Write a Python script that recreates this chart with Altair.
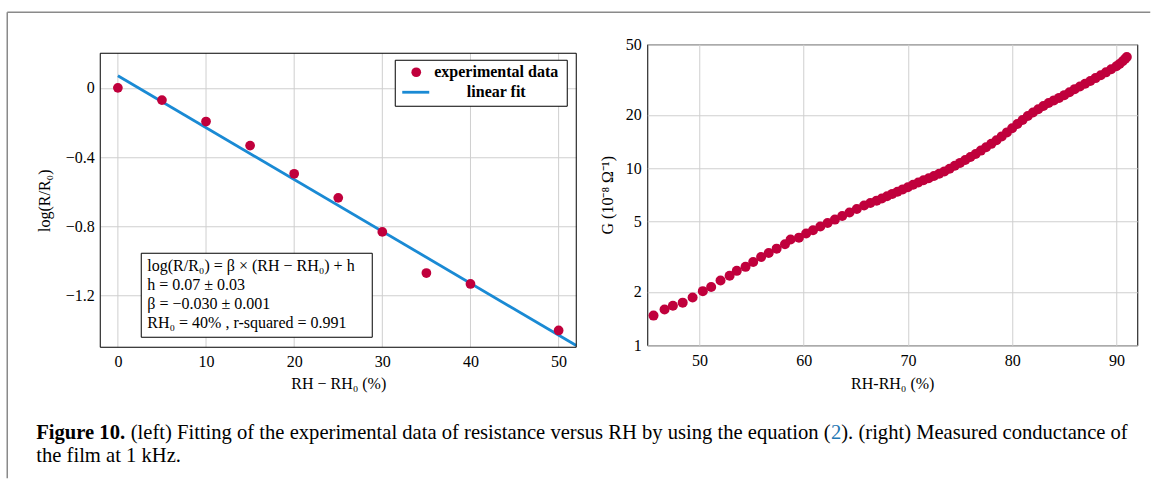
import altair as alt
import pandas as pd

# ---------------- data ----------------
rh_left = [0, 5, 10, 15, 20, 25, 30, 35, 40, 50]
logr_left = [0.0, -0.071, -0.195, -0.334, -0.497, -0.636, -0.833, -1.071, -1.134, -1.403]
fit_rh = [0, 52]
fit_logr = [0.07, -1.49]
left_xticks = [0, 10, 20, 30, 40, 50]
left_yticks = [0, -0.4, -0.8, -1.2]
left_xdomain = [-2, 52]
left_ydomain = [-1.5, 0.2]

rh_right = [45.6, 46.66, 47.46, 48.4, 49.35, 50.33, 51.13, 52.03, 52.9, 53.59,
            54.43, 55.16, 55.92, 56.65, 57.41, 58.21, 58.75, 59.55, 60.24, 60.9,
            61.6, 62.3, 63.0, 63.7, 64.4, 65.1, 65.8, 66.4, 67.0, 67.5,
            68.0, 68.5, 69.0, 69.5, 70.0, 70.5, 71.0, 71.5, 72.0, 72.5,
            73.0, 73.5, 74.0, 74.5, 75.0, 75.5, 76.0, 76.5, 77.0, 77.5,
            78.0, 78.5, 79.0, 79.5, 80.0, 80.5, 81.0, 81.5, 82.0, 82.5,
            83.0, 83.5, 84.0, 84.5, 85.0, 85.5, 86.0, 86.5, 87.0, 87.5,
            88.0, 88.5, 89.0, 89.5, 90.0, 90.3, 90.6, 90.85, 91.0]
g_right = [1.47, 1.59, 1.67, 1.74, 1.86, 2.02, 2.13, 2.32, 2.47, 2.63,
           2.77, 2.95, 3.15, 3.32, 3.51, 3.72, 3.95, 4.05, 4.27, 4.46,
           4.68, 4.90, 5.12, 5.36, 5.61, 5.88, 6.15, 6.35, 6.55, 6.73,
           6.94, 7.15, 7.36, 7.58, 7.80, 8.05, 8.30, 8.53, 8.77, 9.02,
           9.28, 9.58, 9.92, 10.3, 10.7, 11.1, 11.55, 12.02, 12.55, 13.1,
           13.7, 14.35, 15.1, 15.9, 16.8, 17.75, 18.7, 19.7, 20.6, 21.5,
           22.4, 23.3, 24.1, 24.9, 25.8, 26.8, 27.9, 28.9, 29.9, 31.0,
           32.2, 33.4, 34.7, 36.1, 37.6, 38.7, 40.1, 41.4, 42.4]
right_xticks = [50, 60, 70, 80, 90]
right_yticks = [1, 2, 5, 10, 20, 50]

legend_labels = ["experimental data", "linear fit"]
annot_lines = ["log(R/R₀) = β × (RH − RH₀) + h",
               "h = 0.07 ± 0.03",
               "β = −0.030 ± 0.001",
               "RH₀ = 40%  , r-squared = 0.991"]
cap_bold = "Figure 10."
cap_a = "(left) Fitting of the experimental data of resistance versus RH by using the equation ("
cap_ref = "2"
cap_b = "). (right) Measured conductance of"
cap_line2 = "the film at 1 kHz."

# ---------------- style ----------------
SERIF = "Liberation Serif"
RED = "#c0003c"
BLUE = "#1a8ad4"
GRID = "#cfcfcf"
FS = 16
CAP_FS = 20.6

# Times widths (per 1000 em) to place caption pieces side by side
TW = {' ': 250, '(': 333, ')': 333, '.': 250, ',': 250, '-': 333,
      'a': 444, 'b': 500, 'c': 444, 'd': 500, 'e': 444, 'f': 333, 'g': 500,
      'h': 500, 'i': 278, 'j': 278, 'k': 500, 'l': 278, 'm': 778, 'n': 500,
      'o': 500, 'p': 500, 'q': 500, 'r': 333, 's': 389, 't': 278, 'u': 500,
      'v': 500, 'w': 722, 'x': 500, 'y': 500, 'z': 444,
      'F': 556, 'H': 722, 'M': 889, 'R': 667}
TWB = {'F': 611, 'i': 278, 'g': 500, 'u': 556, 'r': 444, 'e': 444, ' ': 250, '.': 250}


def tw(s, table, fs):
    return sum(table.get(c, 500) for c in s) * fs / 1000.0


one = pd.DataFrame({"k": [0]})

# ---------------- layout (page pixels) ----------------
OX, OY = 100, 44            # origin of both views' top edge / left view's left edge
L_TOP, L_BOT = 53, 347      # left plot frame
LW = 476
LH = L_BOT - OY             # view height (frame drawn from data bounds)
RW, RH = 490, 301
GAP = 71

# ---------------- left panel ----------------
px_per_unit = (L_BOT - L_TOP) / (left_ydomain[1] - left_ydomain[0])
y_top_ext = left_ydomain[1] + (L_TOP - OY) / px_per_unit
xs = alt.Scale(domain=left_xdomain, nice=False, zero=False)
ys = alt.Scale(domain=[left_ydomain[0], y_top_ext], nice=False, zero=False)

xax = alt.Axis(values=left_xticks, title="RH − RH₀ (%)", grid=False, ticks=False,
               domain=False, labelPadding=6, labelFlush=False, format="d",
               titleY=36, titleBaseline="middle")
yax = alt.Axis(values=left_yticks, title="log(R/R₀)", grid=True, ticks=False,
               domain=False, labelPadding=6,
               labelExpr="datum.value == 0 ? '0' : format(datum.value, '.1f')",
               titleX=-56, titleY=200 - OY, titleBaseline="middle")

df_left = pd.DataFrame({"rh": rh_left, "logr": logr_left})
df_fit = pd.DataFrame({"rh": fit_rh, "logr": fit_logr})
df_vgrid = pd.DataFrame({"rh": left_xticks})

pts = alt.Chart(df_left).mark_circle(size=95, color=RED, opacity=1).encode(
    x=alt.X("rh:Q", scale=xs, axis=xax),
    y=alt.Y("logr:Q", scale=ys, axis=yax))
vgrid = alt.Chart(df_vgrid).mark_rule(color=GRID, strokeWidth=1).encode(
    x=alt.X("rh:Q", scale=xs),
    y=alt.datum(left_ydomain[0]), y2=alt.datum(left_ydomain[1]))
fit = alt.Chart(df_fit).mark_line(color=BLUE, strokeWidth=2.8, clip=True).encode(
    x=alt.X("rh:Q", scale=xs), y=alt.Y("logr:Q", scale=ys))
frame = alt.Chart(one).mark_rect(fill="white", fillOpacity=0, stroke="black",
                                 strokeWidth=1).encode(
    x=alt.datum(left_xdomain[0]), x2=alt.datum(left_xdomain[1]),
    y=alt.datum(left_ydomain[0]), y2=alt.datum(left_ydomain[1]))


def vx(ax):  # page x -> left view x
    return ax - OX


def vy(ay):  # page y -> left view y
    return ay - OY


# legend box
leg_box = alt.Chart(one).mark_rect(fill="white", stroke="black", strokeWidth=1).encode(
    x=alt.value(vx(395)), x2=alt.value(vx(567)), y=alt.value(vy(60)), y2=alt.value(vy(106)))
leg_pt = alt.Chart(one).mark_circle(size=95, color=RED, opacity=1).encode(
    x=alt.value(vx(416)), y=alt.value(vy(72)))
leg_ln = alt.Chart(one).mark_rule(color=BLUE, strokeWidth=2.8).encode(
    x=alt.value(vx(402)), x2=alt.value(vx(429)), y=alt.value(vy(92)))
leg_t1 = alt.Chart(one).mark_text(text=legend_labels[0], font=SERIF, fontSize=FS,
                                  fontWeight="bold", align="center", baseline="middle",
                                  color="black").encode(x=alt.value(vx(496)), y=alt.value(vy(72)))
leg_t2 = alt.Chart(one).mark_text(text=legend_labels[1], font=SERIF, fontSize=FS,
                                  fontWeight="bold", align="center", baseline="middle",
                                  color="black").encode(x=alt.value(vx(496)), y=alt.value(vy(92)))

# annotation box
ann_box = alt.Chart(one).mark_rect(fill="white", stroke="black", strokeWidth=1).encode(
    x=alt.value(vx(141)), x2=alt.value(vx(372)), y=alt.value(vy(253)), y2=alt.value(vy(337)))
ann_texts = [alt.Chart(one).mark_text(text=t, font=SERIF, fontSize=FS, align="left",
                                      baseline="middle", color="black").encode(
    x=alt.value(vx(147)), y=alt.value(vy(266 + 19 * i))) for i, t in enumerate(annot_lines)]

# caption and page frame
cx0, cy1, cy2 = vx(36), vy(433), vy(456)
wb = tw(cap_bold + " ", TWB, CAP_FS)
wa = tw(cap_a, TW, CAP_FS)
wr = tw(cap_ref, TW, CAP_FS)


def cap_text(txt, x, y, weight="normal", color="black"):
    return alt.Chart(one).mark_text(text=txt, font=SERIF, fontSize=CAP_FS, fontWeight=weight,
                                    align="left", baseline="middle", color=color).encode(
        x=alt.value(x), y=alt.value(y))


caps = [cap_text(cap_bold, cx0, cy1, "bold"),
        cap_text(cap_a, cx0 + wb, cy1),
        cap_text(cap_ref, cx0 + wb + wa, cy1, color="#1f77b4"),
        cap_text(cap_b, cx0 + wb + wa + wr, cy1),
        cap_text(cap_line2, cx0, cy2)]

frame_top = alt.Chart(one).mark_rule(color="#8a8a8a", strokeWidth=1.5).encode(
    x=alt.value(vx(7)), x2=alt.value(vx(1150)), y=alt.value(vy(12)))
frame_left = alt.Chart(one).mark_rule(color="#8a8a8a", strokeWidth=1.5).encode(
    x=alt.value(vx(7)), y=alt.value(vy(12)), y2=alt.value(vy(478)))

left = alt.layer(vgrid, fit, pts, frame, leg_box, leg_pt, leg_ln, leg_t1, leg_t2,
                 ann_box, *ann_texts, *caps, frame_top, frame_left).properties(
    width=LW, height=LH, view=alt.ViewBackground(stroke=None))

# ---------------- right panel ----------------
xs2 = alt.Scale(domain=[45, 92], nice=False, zero=False)
ys2 = alt.Scale(type="log", domain=[1, 50], nice=False)
xax2 = alt.Axis(values=right_xticks, title="RH-RH₀ (%)", grid=True, ticks=False,
                domain=False, labelPadding=7, labelFlush=False, format="d",
                titleY=38, titleBaseline="middle")
yax2 = alt.Axis(values=right_yticks, title="G (10⁻⁸ Ω⁻¹)", grid=True, ticks=False,
                domain=False, labelPadding=6, format="d", titleX=-40,
                titleBaseline="middle")
df_right = pd.DataFrame({"rh": rh_right, "g": g_right})
right = alt.Chart(df_right).mark_circle(size=100, color=RED, opacity=1).encode(
    x=alt.X("rh:Q", scale=xs2, axis=xax2),
    y=alt.Y("g:Q", scale=ys2, axis=yax2)).properties(
    width=RW, height=RH, view=alt.ViewBackground(stroke="black", strokeWidth=1))

chart = alt.hconcat(left, right, spacing=GAP, bounds="flush").properties(
    padding={"left": 6.25, "top": 11.25, "right": 0, "bottom": 0},
    autosize=alt.AutoSizeParams(type="pad"),
    background="white"
).configure_axis(
    labelFont=SERIF, labelFontSize=FS, labelColor="black",
    titleFont=SERIF, titleFontSize=FS, titleFontWeight="normal", titleColor="black",
    gridColor=GRID, gridWidth=1
)

chart.save("out.html", embed_options={"renderer": "svg", "actions": False})
